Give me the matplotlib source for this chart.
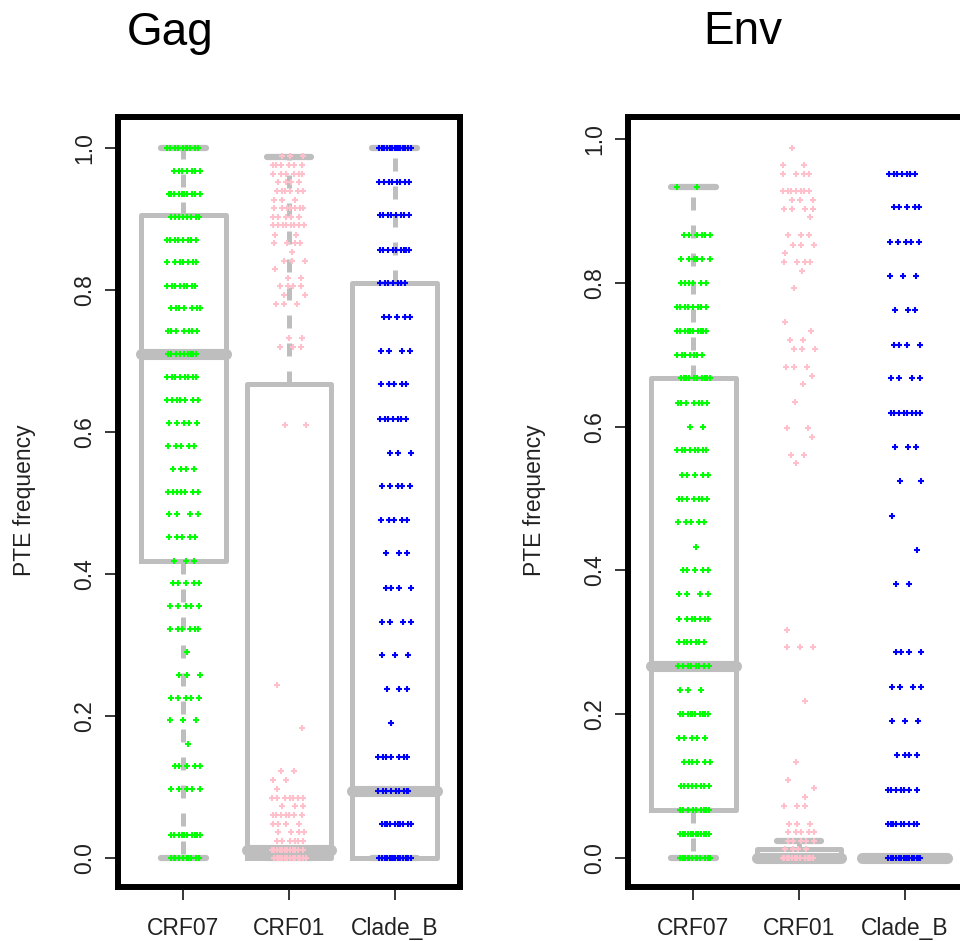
import matplotlib
matplotlib.use('Agg')
import matplotlib.pyplot as plt
import numpy as np

plt.rcParams['font.family'] = 'Liberation Sans'

grupos = ['CRF07', 'CRF01', 'Clade_B']
colores = ['#00FF00', '#FFC0CB', '#0000FF']
gris = '#BEBEBE'

# ---- Gag: niveles de PTE y numero de puntos por nivel ----
gag_crf07_vals = [1.0, 0.968, 0.935, 0.903, 0.871, 0.839, 0.806, 0.774, 0.742, 0.710,
                  0.677, 0.645, 0.613, 0.581, 0.548, 0.516, 0.484, 0.452, 0.419, 0.387,
                  0.355, 0.323, 0.290, 0.258, 0.226, 0.194, 0.161, 0.129, 0.097, 0.032, 0.0]
gag_crf07_n = [10, 7, 10, 8, 8, 7, 8, 7, 7, 9,
               8, 7, 5, 5, 4, 7, 4, 5, 3, 5,
               5, 6, 1, 3, 5, 3, 1, 5, 5, 10, 10]

gag_crf01_vals = [0.989, 0.976, 0.964, 0.952, 0.939, 0.927, 0.915, 0.903, 0.891, 0.878,
                  0.866, 0.854, 0.841, 0.829, 0.817, 0.805, 0.793, 0.781, 0.732, 0.720,
                  0.610, 0.244, 0.183, 0.122, 0.110, 0.097, 0.085, 0.073, 0.061, 0.048,
                  0.036, 0.024, 0.012, 0.0]
gag_crf01_n = [3, 6, 6, 4, 6, 3, 7, 5, 8, 2,
               4, 1, 3, 1, 2, 4, 2, 3, 2, 3,
               2, 1, 1, 2, 2, 1, 7, 3, 7, 4,
               4, 6, 12, 14]

gag_cladeb_vals = [1.0, 0.952, 0.905, 0.857, 0.810, 0.762, 0.714, 0.667, 0.619, 0.571,
                   0.524, 0.476, 0.429, 0.381, 0.333, 0.286, 0.238, 0.190, 0.143, 0.095,
                   0.048, 0.0]
gag_cladeb_n = [14, 8, 8, 9, 7, 5, 4, 5, 7, 3,
                5, 5, 3, 4, 4, 3, 3, 1, 7, 9,
                10, 14]

# ---- Env ----
env_crf07_vals = [0.933, 0.867, 0.833, 0.800, 0.767, 0.733, 0.700, 0.667, 0.633, 0.600,
                  0.567, 0.533, 0.500, 0.467, 0.433, 0.400, 0.367, 0.333, 0.300, 0.267,
                  0.233, 0.200, 0.167, 0.133, 0.100, 0.067, 0.033, 0.0]
env_crf07_n = [2, 6, 6, 6, 8, 10, 7, 10, 7, 2,
               8, 5, 7, 5, 1, 5, 4, 7, 7, 8,
               3, 10, 5, 6, 8, 9, 12, 12]

env_crf01_vals = [0.988, 0.964, 0.952, 0.927, 0.915, 0.903, 0.891, 0.866, 0.853, 0.841,
                  0.829, 0.817, 0.793, 0.745, 0.733, 0.720, 0.708, 0.683, 0.671, 0.659,
                  0.634, 0.598, 0.585, 0.561, 0.549, 0.317, 0.293, 0.219, 0.134, 0.109,
                  0.097, 0.085, 0.073, 0.048, 0.036, 0.024, 0.012, 0.0]
env_crf01_n = [1, 2, 4, 7, 3, 4, 1, 3, 3, 1,
               4, 1, 1, 1, 1, 2, 3, 3, 1, 1,
               1, 2, 1, 2, 1, 1, 3, 1, 1, 1,
               1, 1, 3, 3, 5, 5, 4, 12]

env_cladeb_vals = [0.952, 0.905, 0.857, 0.810, 0.762, 0.714, 0.667, 0.619, 0.571, 0.524,
                   0.476, 0.429, 0.381, 0.286, 0.238, 0.190, 0.143, 0.095, 0.048, 0.0]
env_cladeb_n = [7, 5, 5, 3, 3, 4, 4, 8, 3, 2,
                1, 1, 2, 4, 4, 3, 4, 7, 9, 15]

# ---- estadisticos de las cajas ----
gag_lo = [0.0, 0.0, 0.0]
gag_q1 = [0.419, 0.0, 0.0]
gag_med = [0.710, 0.012, 0.095]
gag_q3 = [0.905, 0.667, 0.810]
gag_hi = [1.0, 0.988, 1.0]

env_lo = [0.0, 0.0, 0.0]
env_q1 = [0.067, 0.0, 0.0]
env_med = [0.267, 0.0, 0.0]
env_q3 = [0.667, 0.012, 0.0]
env_hi = [0.933, 0.024, 0.0]


def jitter(n, semilla):
    """desplazamiento horizontal determinista (tipo stripchart jitter)"""
    i = np.arange(n)
    return ((i * 0.6180339887 + semilla * 0.7548776662) % 1.0 - 0.5) * 0.32


def panel(ax, puntos, lo, q1, med, q3, hi, ylim):
    stats = []
    for k in range(3):
        stats.append(dict(whislo=lo[k], q1=q1[k], med=med[k], q3=q3[k],
                          whishi=hi[k], fliers=[]))
    ax.bxp(stats, positions=[1, 2, 3], widths=0.8, capwidths=0.42,
           showfliers=False, manage_ticks=False, zorder=2,
           boxprops=dict(color=gris, lw=3.6),
           medianprops=dict(color=gris, lw=8, solid_capstyle='round'),
           whiskerprops=dict(color=gris, lw=3.6, linestyle=(0, (2.6, 3.0))),
           capprops=dict(color=gris, lw=4.5, solid_capstyle='round'))

    for g, (vals, ns) in enumerate(puntos):
        xs, ys = [], []
        for j, (v, n) in enumerate(zip(vals, ns)):
            xs.extend(g + 1 + jitter(n, j + 7 * g))
            ys.extend([v] * n)
        ax.plot(xs, ys, ls='none', marker='+', ms=4, mew=1.5,
                color=colores[g], zorder=3)

    ax.set_xlim(0.38, 3.62)
    ax.set_ylim(*ylim)
    ax.set_xticks([1, 2, 3])
    ax.set_xticklabels(grupos)
    ax.set_yticks([0, 0.2, 0.4, 0.6, 0.8, 1.0])
    ax.set_yticklabels(['0.0', '0.2', '0.4', '0.6', '0.8', '1.0'])
    for sp in ax.spines.values():
        sp.set_linewidth(4.3)
        sp.set_color('black')
    ax.tick_params(direction='out', length=9.5, width=1.1, labelsize=16.5,
                   colors='black', labelcolor='#222222')
    ax.tick_params(axis='x', pad=12)
    ax.tick_params(axis='y', pad=6)
    for t in ax.get_yticklabels():
        t.set_rotation(90)
        t.set_va('center')


fig = plt.figure(figsize=(9.6, 9.41), dpi=100)

ax1 = fig.add_axes([118 / 960, 54 / 941, 342 / 960, 770 / 941])
panel(ax1, [(gag_crf07_vals, gag_crf07_n), (gag_crf01_vals, gag_crf01_n),
            (gag_cladeb_vals, gag_cladeb_n)],
      gag_lo, gag_q1, gag_med, gag_q3, gag_hi, (-0.0408, 1.0437))

ax2 = fig.add_axes([628 / 960, 54 / 941, 342 / 960, 770 / 941])
panel(ax2, [(env_crf07_vals, env_crf07_n), (env_crf01_vals, env_crf01_n),
            (env_cladeb_vals, env_cladeb_n)],
      env_lo, env_q1, env_med, env_q3, env_hi, (-0.0403, 1.0306))

# titulos y etiquetas
fig.text(170 / 960, 1 - 45 / 941, 'Gag', fontsize=33, ha='center', va='baseline')
fig.text(743 / 960, 1 - 44 / 941, 'Env', fontsize=33, ha='center', va='baseline')
fig.text(25 / 960, 1 - 500 / 941, 'PTE frequency', rotation=90, fontsize=16.5,
         ha='center', va='center', color='#222222')
fig.text(535 / 960, 1 - 500 / 941, 'PTE frequency', rotation=90, fontsize=16.5,
         ha='center', va='center', color='#222222')

fig.savefig('out.png', dpi=100, facecolor='white')
plt.close(fig)
